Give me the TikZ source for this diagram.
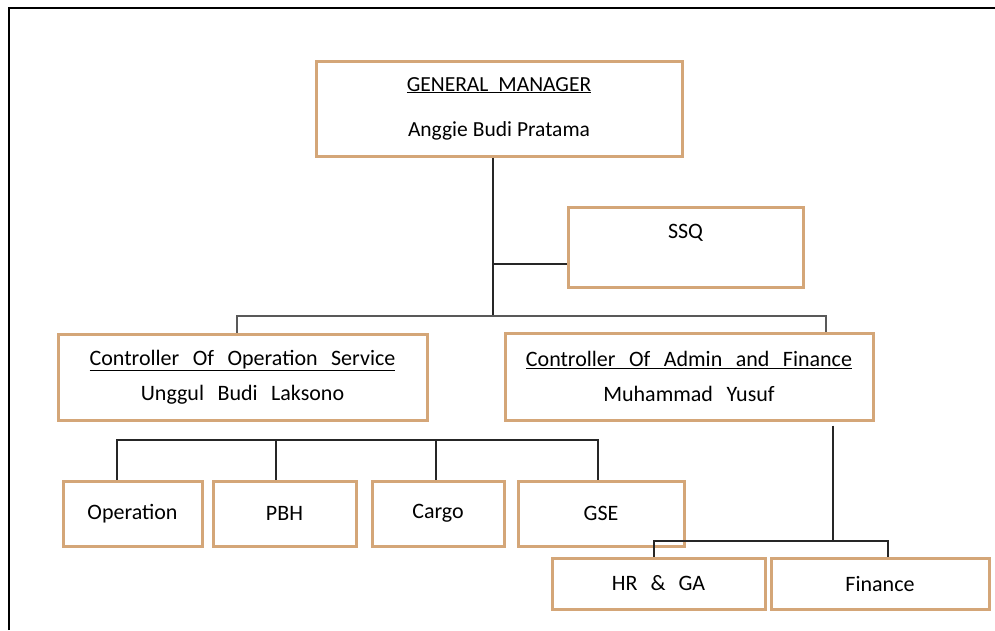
\documentclass[tikz,border=0pt]{standalone}
\usepackage{fontspec}
\setmainfont{Carlito}
\usetikzlibrary{positioning}

\definecolor{boxedge}{RGB}{212,166,120}
\newcommand{\widegap}[1]{\spaceskip=#1\relax}
\tikzset{
  unit/.style={draw=boxedge, line width=3pt, fill=white, align=center,
    inner sep=0pt, font=\fontsize{22}{45}\selectfont,
    execute at begin node=\widegap{13pt}},
  link/.style={draw=black!85, line width=1.3pt},
  mainlink/.style={draw=black!65, line width=2.2pt}
}

\begin{document}
\begin{tikzpicture}[x=1pt, y=-1pt]
    \useasboundingbox (0,0) rectangle (995,630);
    % Draw outer frame
    \draw[line width=1.8pt] (9,630) -- (9,8) -- (995,8);

    % Draw the boxes
    \node[unit, minimum width=366pt, minimum height=95pt, font=\fontsize{21.5}{45}\selectfont,
      execute at begin node=\widegap{5pt}] (gm) at (499,108.5)
      {\underline{GENERAL\ \ MANAGER}\\Anggie Budi Pratama};
    \node[unit, minimum width=235pt, text height=31pt, text depth=49pt] (ssq) at (685.5,247) {SSQ};
    \node[unit, minimum width=369pt, minimum height=86pt, font=\fontsize{22}{35}\selectfont,
      execute at begin node=\widegap{13.5pt}] (cos) at (242.5,377)
      {\underline{Controller Of Operation Service}\\Unggul Budi Laksono};
    \node[unit, minimum width=368pt, minimum height=87pt, font=\fontsize{22}{35}\selectfont,
      execute at begin node=\widegap{13.5pt}] (caf) at (689,376.5)
      {\underline{Controller Of Admin and Finance}\\Muhammad Yusuf};

    \node[unit, minimum width=139pt, minimum height=65pt] (op) at (132.5,513.5) {Operation};
    \node[unit, minimum width=143pt, minimum height=65pt] (pbh) at (284.5,513.5) {PBH};
    \node[unit, minimum width=132pt, minimum height=65pt] (cargo) at (438,513.5) {Cargo};
    \node[unit, minimum width=166pt, minimum height=65pt] (gse) at (601,513.5) {GSE};

    \node[unit, minimum width=213pt, minimum height=51pt] (hr) at (658.5,583.5) {HR \& GA};
    \node[unit, minimum width=218pt, minimum height=51pt] (fin) at (880,583.5) {Finance};

    % Draw connecting lines
    \coordinate (trunk) at (493,316);
    \draw[link] (gm.south -| trunk) -- (trunk);
    \draw[link] ([yshift=-17pt]ssq.west) -- ([yshift=-17pt]ssq.west -| trunk);
    \draw[mainlink] ([xshift=-5.5pt]cos.north) -- ([xshift=-5.5pt]cos.north |- trunk)
      -| ([xshift=137pt]caf.north);

    \coordinate (cosbar) at (0,440);
    \draw[link] ([xshift=-15.5pt]op.north) |- ([xshift=-3pt]gse.north |- cosbar) -- ([xshift=-3pt]gse.north);
    \draw[link] ([xshift=-8.5pt]pbh.north) -- ([xshift=-8.5pt]pbh.north |- cosbar);
    \draw[link] ([xshift=-2pt]cargo.north) -- ([xshift=-2pt]cargo.north |- cosbar);

    \coordinate (cafbar) at (833,541);
    \draw[link] ([xshift=144pt,yshift=-4pt]caf.south) -- (cafbar);
    \draw[link] ([xshift=-4.5pt]hr.north) |- ([xshift=8pt]fin.north |- cafbar) -- ([xshift=8pt]fin.north);
\end{tikzpicture}
\end{document}
